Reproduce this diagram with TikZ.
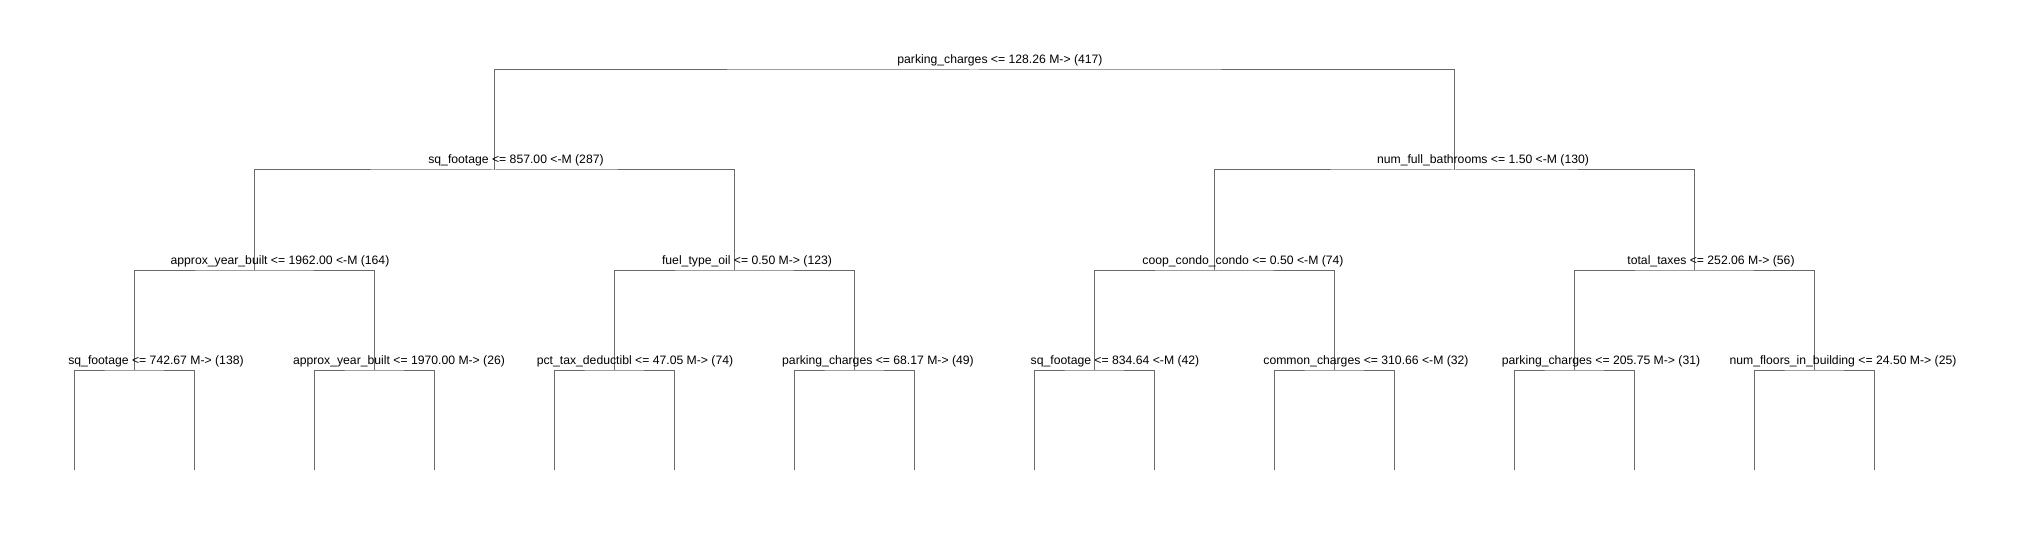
\documentclass[tikz,border=0pt]{standalone}
\usepackage{fontspec}
\setmainfont{Liberation Sans}
\usetikzlibrary{calc}
\definecolor{bgWhite}{RGB}{255, 255, 255}
\definecolor{lineGray}{RGB}{105, 105, 105}
\definecolor{textBlack}{RGB}{0, 0, 0}
\tikzset{
    split/.style={
        anchor=base,
        inner sep=0pt,
        text=textBlack,
        font=\fontsize{6.1}{7}\selectfont
    },
    branch/.style={
        draw=lineGray,
        line width=0.5pt
    }
}
\begin{document}
\begin{tikzpicture}[x=0.5pt, y=-0.5pt]
    \useasboundingbox (0,0) rectangle (2026,540);
    \fill[bgWhite] (0,0) rectangle (2026,540);

    % Junctions
    \coordinate (jRoot) at (974,70);
    \coordinate (jL) at (494,170);
    \coordinate (jR) at (1454,170);
    \coordinate (jLL) at (254,270);
    \coordinate (jLR) at (734,270);
    \coordinate (jRL) at (1214,270);
    \coordinate (jRR) at (1694,270);
    \foreach \i in {1,...,8} {
        \coordinate (jB\i) at ({134+240*(\i-1)},370);
    }
    \foreach \i in {1,...,16} {
        \coordinate (leaf\i) at ({74+120*(\i-1)},470);
    }

    % Branches
    \draw[branch] (jL) |- (jRoot) -| (jR);
    \draw[branch] (jLL) |- (jL) -| (jLR);
    \draw[branch] (jRL) |- (jR) -| (jRR);
    \draw[branch] (jB1) |- (jLL) -| (jB2);
    \draw[branch] (jB3) |- (jLR) -| (jB4);
    \draw[branch] (jB5) |- (jRL) -| (jB6);
    \draw[branch] (jB7) |- (jRR) -| (jB8);
    \foreach \i [evaluate=\i as \a using int(2*\i-1), evaluate=\i as \b using int(2*\i)] in {1,...,8} {
        \draw[branch] (leaf\a) |- (jB\i) -| (leaf\b);
    }

    % Split labels
    \node[split] (splitRoot) at (1000,64) {parking\_charges <= 128.26 M-> (417)};
    \node[split] (splitL) at (516,164) {sq\_footage <= 857.00 <-M (287)};
    \node[split] (splitR) at (1483,164) {num\_full\_bathrooms <= 1.50 <-M (130)};
    \node[split] (splitLL) at (280,264) {approx\_year\_built <= 1962.00 <-M (164)};
    \node[split] (splitLR) at (747,264) {fuel\_type\_oil <= 0.50 M-> (123)};
    \node[split] (splitRL) at (1243,264) {coop\_condo\_condo <= 0.50 <-M (74)};
    \node[split] (splitRR) at (1711,264) {total\_taxes <= 252.06 M-> (56)};
    \node[split] (splitB1) at (156,364) {sq\_footage <= 742.67 M-> (138)};
    \node[split] (splitB2) at (399,364) {approx\_year\_built <= 1970.00 M-> (26)};
    \node[split] (splitB3) at (635,364) {pct\_tax\_deductibl <= 47.05 M-> (74)};
    \node[split] (splitB4) at (878,364) {parking\_charges <= 68.17 M-> (49)};
    \node[split] (splitB5) at (1115,364) {sq\_footage <= 834.64 <-M (42)};
    \node[split] (splitB6) at (1366,364) {common\_charges <= 310.66 <-M (32)};
    \node[split] (splitB7) at (1601,364) {parking\_charges <= 205.75 M-> (31)};
    \node[split] (splitB8) at (1843,364) {num\_floors\_in\_building <= 24.50 M-> (25)};
\end{tikzpicture}
\end{document}
